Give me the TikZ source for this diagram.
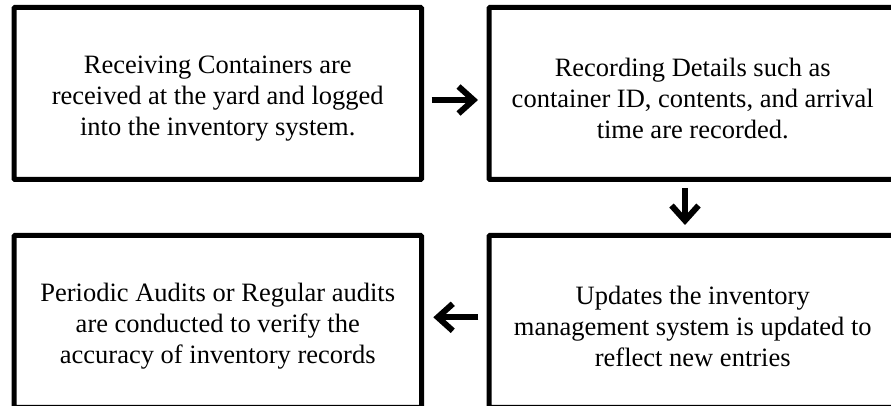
\documentclass[tikz,border=0pt]{standalone}
\usepackage{fontspec}
\setmainfont{Liberation Serif}
\usetikzlibrary{arrows.meta,positioning}
\newcommand{\toppad}{\rule{0pt}{28pt}}

\begin{document}
\begin{tikzpicture}[x=1pt,y=1pt,
  stepbox/.style={draw,line width=5pt,rounded corners=1pt,
    minimum width=407.5pt,minimum height=172pt,inner sep=0pt,outer sep=0pt,
    align=center,font=\fontsize{26.5}{31}\selectfont},
  flow/.style={line width=6pt,-{Straight Barb[length=15pt,width=27pt]}}]
  \useasboundingbox (0,0) rectangle (891,406);
  \clip (0,0) rectangle (891,406);
  % the four steps
  \node[stepbox] (recv) at (217.75,312.5)
    {\toppad Receiving Containers are\\received at the yard and logged\\into the inventory system.};
  \node[stepbox,right=67.5pt of recv] (rec)
    {\toppad Recording Details such as\\container ID, contents, and arrival\\time are recorded.};
  \node[stepbox,below=56pt of rec] (upd)
    {\toppad Updates the inventory\\management system is updated to\\reflect new entries};
  \node[stepbox,left=67.5pt of upd] (aud)
    {\toppad Periodic Audits or Regular audits\\are conducted to verify the\\accuracy of inventory records};
  % arrows between them
  \draw[flow,shorten <=10pt,shorten >=11pt] ([yshift=-6.5pt]recv.east) -- ([yshift=-6.5pt]rec.west);
  \draw[flow,shorten <=8.5pt,shorten >=10.5pt] ([xshift=-7.75pt]rec.south) -- ([xshift=-7.75pt]upd.north);
  \draw[flow,shorten <=10.7pt,shorten >=11.8pt] ([yshift=4.2pt]upd.west) -- ([yshift=4.2pt]aud.east);
\end{tikzpicture}
\end{document}
